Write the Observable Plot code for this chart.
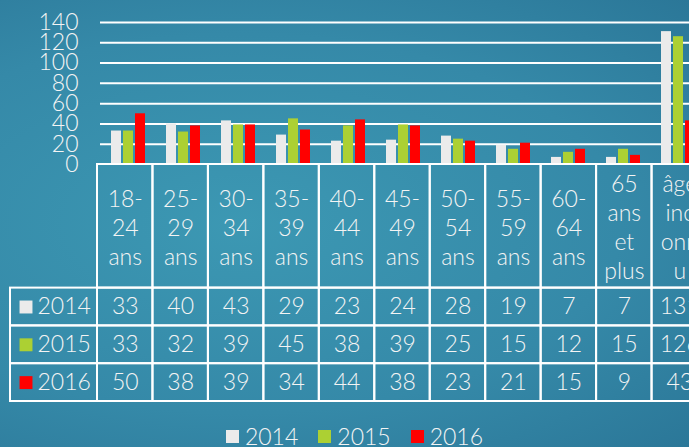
<!DOCTYPE html>
<html><head><meta charset="utf-8">
<script src="https://cdn.jsdelivr.net/npm/d3@7"></script>
<script src="https://cdn.jsdelivr.net/npm/@observablehq/plot@0.6"></script>
<style>
html,body{margin:0;padding:0;background:#2f84a3;}
#wrap{position:relative;width:689px;height:447px;overflow:hidden;
  background:radial-gradient(ellipse at 35% 50%, #3c98b3 0%, #3589a8 60%, #2b7798 100%);
  font-family:Lato,"DejaVu Sans",sans-serif;}
#wrap svg{position:absolute;left:0;top:0;max-width:none !important;}
#legend{position:absolute;left:0;top:426px;width:689px;height:21px;display:flex;justify-content:center;align-items:center;
  padding-left:20px;box-sizing:border-box;color:#f4f4f4;font-size:23px;font-weight:300;line-height:21px;}
#legend .item{display:flex;align-items:center;margin:0 10px;}
#legend .sw{width:13px;height:13px;margin-right:6px;display:inline-block;}
</style></head><body><div id="wrap"></div>
<script>
// ---- data ----
const ages = ["18-24 ans","25-29 ans","30-34 ans","35-39 ans","40-44 ans","45-49 ans","50-54 ans","55-59 ans","60-64 ans","65 ans et plus","âge inconnu"];
const ageLines = ["18-\n24\nans","25-\n29\nans","30-\n34\nans","35-\n39\nans","40-\n44\nans","45-\n49\nans","50-\n54\nans","55-\n59\nans","60-\n64\nans","65\nans\net\nplus","âge\ninc\nonn\nu"];
const years = ["2014","2015","2016"];
const yearColors = ["#ebebeb","#acd033","#ff0000"];
const v2014 = [33,40,43,29,23,24,28,19,7,7,131];
const v2015 = [33,32,39,45,38,39,25,15,12,15,126];
const v2016 = [50,38,39,34,44,38,23,21,15,9,43];
const yTicks = [0,20,40,60,80,100,120,140];

const series = [v2014, v2015, v2016];
const rows = years.flatMap((yr,k)=>ages.map((a,i)=>({year:yr,k,age:a,i,value:series[k][i]})));

const txt = "#f4f4f4";
const font = "Lato, 'DejaVu Sans', sans-serif";
const W = 707, ML = 97, LEFT = 10;
const colPx = (W - ML)/ages.length;
const L = (ML - LEFT)/colPx;       // label column width in column units
const H = 3.27;                    // header height in row units

const wrap = document.getElementById("wrap");

// ---- bar chart ----
const bars = Plot.plot({
  width: W, height: 165, marginLeft: ML, marginRight: 0, marginTop: 22, marginBottom: 1,
  style:{background:"transparent", color:txt, fontFamily:font, fontSize:"23px", fontWeight:300, overflow:"visible"},
  fx:{domain:ages, padding:0, axis:null},
  x:{domain:years, paddingInner:0.2, paddingOuter:0.88, axis:null},
  y:{domain:[0,140], axis:null},
  color:{domain:years, range:yearColors},
  marks:[
    Plot.ruleY(yTicks.filter(d=>d>0), {stroke:"#ffffff", strokeWidth:2}),
    Plot.barY(rows, {fx:"age", x:"year", y:"value", fill:"year"}),
    Plot.axisY({ticks:yTicks, tickSize:0, tickPadding:22, fontSize:23, fill:txt, label:null, tickFormat:d=>d})
  ]
});
wrap.appendChild(bars);

// ---- data table ----
const header = ages.map((a,i)=>({i, label:ageLines[i]}));
const labelRows = years.map((yr,k)=>({year:yr,k}));
const table = Plot.plot({
  width: W, height: 447, marginLeft: LEFT, marginRight: 0, marginTop: 164, marginBottom: 46,
  style:{background:"transparent", color:txt, fontFamily:font, fontSize:"23px", fontWeight:300},
  x:{domain:[-L, ages.length], axis:null},
  y:{domain:[0, H+3], reverse:true, axis:null},
  color:{domain:years, range:yearColors},
  marks:[
    Plot.rect(header, {x1:d=>d.i, x2:d=>d.i+1, y1:0, y2:H, stroke:"#ffffff", strokeWidth:2, fill:"none"}),
    Plot.rect(rows, {x1:d=>d.i, x2:d=>d.i+1, y1:d=>H+d.k, y2:d=>H+d.k+1, stroke:"#ffffff", strokeWidth:2, fill:"none"}),
    Plot.rect(labelRows, {x1:-L, x2:0, y1:d=>H+d.k, y2:d=>H+d.k+1, stroke:"#ffffff", strokeWidth:2, fill:"none"}),
    Plot.text(header, {x:d=>d.i+0.5, y:H/2, text:"label", lineHeight:1.26, fontSize:23, fill:txt}),
    Plot.text(rows, {x:d=>d.i+0.5, y:d=>H+d.k+0.5, text:d=>String(d.value), fontSize:23, fill:txt}),
    Plot.dot(labelRows, {x:-L, dx:15.5, y:d=>H+d.k+0.5, symbol:"square", r:7.3, fill:"year", stroke:null}),
    Plot.text(labelRows, {x:-L, dx:27, y:d=>H+d.k+0.5, text:"year", textAnchor:"start", fontSize:23, fill:txt})
  ]
});
wrap.appendChild(table);

// ---- legend ----
const lg = document.createElement("div");
lg.id = "legend";
years.forEach((yr,k)=>{
  const it = document.createElement("span"); it.className="item";
  const sw = document.createElement("span"); sw.className="sw"; sw.style.background = yearColors[k];
  const t = document.createElement("span"); t.textContent = yr;
  it.appendChild(sw); it.appendChild(t); lg.appendChild(it);
});
wrap.appendChild(lg);
</script></body></html>
